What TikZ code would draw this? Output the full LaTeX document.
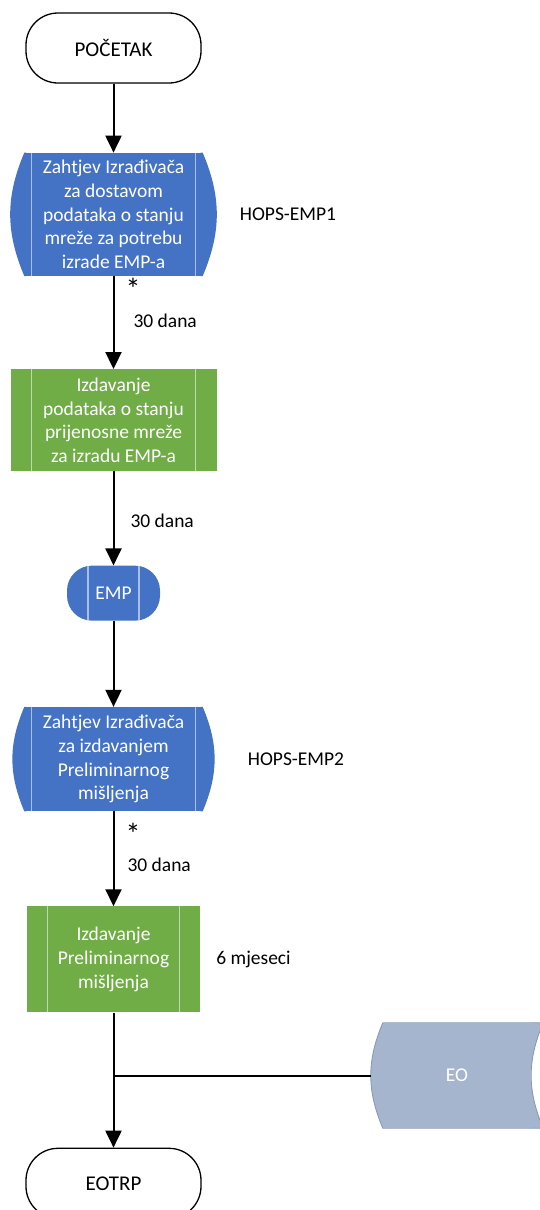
\documentclass[tikz,border=0pt]{standalone}
\usepackage{fontspec}
\setmainfont{Carlito}
\usepackage{xcolor}
\usepackage{tikz}
\usetikzlibrary{
    arrows.meta,
    positioning,
    calc
}

\definecolor{procblue}{RGB}{68,114,196}
\definecolor{procgreen}{RGB}{112,173,71}
\definecolor{storegray}{RGB}{165,181,206}
\definecolor{storeline}{RGB}{132,150,178}

\begin{document}
\begin{tikzpicture}[
        x=1pt, y=1pt,
        font=\fontsize{19.5pt}{23.5pt}\selectfont,
        term/.style={
            rectangle,
            rounded corners=32pt,
            draw,
            line width=1.3pt,
            fill=white,
            font=\fontsize{21pt}{24pt}\selectfont,
            minimum width=175pt,
            minimum height=70pt
        },
        proc/.style={
            rectangle,
            fill=#1,
            text=white,
            align=center,
            font=\fontsize{19.5pt}{23.7pt}\selectfont,
            inner sep=0pt
        },
        curved/.style={
            append after command={
                \pgfextra{
                    \fill[#1] (\tikzlastnode.north west)
                        to[bend right=23] (\tikzlastnode.south west)
                        -- ([xshift=2pt]\tikzlastnode.south west)
                        -- ([xshift=2pt]\tikzlastnode.north west) -- cycle;
                    \fill[#1] (\tikzlastnode.north east)
                        to[bend left=23] (\tikzlastnode.south east)
                        -- ([xshift=-2pt]\tikzlastnode.south east)
                        -- ([xshift=-2pt]\tikzlastnode.north east) -- cycle;
                }
            }
        },
        bars/.style={
            path picture={
                \draw[white, opacity=0.55, line width=1.2pt]
                    ([xshift=#1]path picture bounding box.north west)
                        -- ([xshift=#1]path picture bounding box.south west)
                    ([xshift=-#1]path picture bounding box.north east)
                        -- ([xshift=-#1]path picture bounding box.south east);
            }
        },
        store/.style={
            append after command={
                \pgfextra{
                    \fill[storegray] (\tikzlastnode.north west)
                        to[bend right=23] (\tikzlastnode.south west)
                        -- ([xshift=2pt]\tikzlastnode.south west)
                        -- ([xshift=2pt]\tikzlastnode.north west) -- cycle;
                    \fill[storegray] ([xshift=-2pt]\tikzlastnode.north east)
                        -- ([xshift=12pt]\tikzlastnode.north east)
                        to[bend right=23] ([xshift=12pt]\tikzlastnode.south east)
                        -- ([xshift=-2pt]\tikzlastnode.south east) -- cycle;
                    \draw[storeline, line width=0.8pt]
                        ([xshift=12pt]\tikzlastnode.north east)
                        -- (\tikzlastnode.north west)
                        to[bend right=23] (\tikzlastnode.south west)
                        -- ([xshift=12pt]\tikzlastnode.south east)
                        to[bend left=23] ([xshift=12pt]\tikzlastnode.north east);
                }
            }
        },
        line/.style={
            -{Triangle[length=17pt,width=16pt]},
            line width=2pt
        },
        note/.style={
            anchor=west,
            inner sep=0pt
        },
        star/.style={
            anchor=west,
            inner sep=0pt,
            font=\fontsize{30pt}{30pt}\selectfont
        }
    ]

    \useasboundingbox (0,0) rectangle (540,-1210);

    \node[term] (start) at (113.5,-48) {POČETAK};

    \node[proc=procblue, curved=procblue, bars=7pt,
        minimum width=178pt, minimum height=123pt,
        below=69pt of start] (req1)
        {Zahtjev Izrađivača\\za dostavom\\podataka o stanju\\mreže za potrebu\\izrade EMP-a};

    \node[proc=procgreen, bars=21pt,
        minimum width=206pt, minimum height=102pt,
        below=93pt of req1] (data1)
        {Izdavanje\\podataka o stanju\\prijenosne mreže\\za izradu EMP-a};

    \node[proc=procblue, rounded corners=25pt, bars=21pt,
        minimum width=93pt, minimum height=55pt,
        below=94pt of data1] (emp) {EMP};

    \node[proc=procblue, curved=procblue, bars=7pt,
        minimum width=178pt, minimum height=104pt,
        below=86pt of emp] (req2)
        {Zahtjev Izrađivača\\za izdavanjem\\Preliminarnog\\mišljenja};

    \node[proc=procgreen, bars=20.5pt,
        minimum width=173pt, minimum height=106pt,
        below=95pt of req2] (data2)
        {Izdavanje\\Preliminarnog\\mišljenja};

    \node[term, below=135pt of data2] (eotrp) {EOTRP};

    \node[proc=storegray, store,
        minimum width=148pt, minimum height=105pt] (eo)
        at (457,-1075.5) {EO};

    % labels beside the steps
    \node[note, right=37pt of req1] (hops1) {HOPS-EMP1};
    \node[note, right=45pt of req2] (hops2) {HOPS-EMP2};
    \node[note, right=16pt of data2] (rok) {6 mjeseci};

    \draw[line] (start) -- (req1);
    \draw[line] (req1) --
        node[star, pos=0.14, xshift=11pt] {*}
        node[note, pos=0.48, xshift=19pt] {30 dana} (data1);
    \draw[line] (data1) --
        node[note, pos=0.52, xshift=16pt] {30 dana} (emp);
    \draw[line] (emp) -- (req2);
    \draw[line] (req2) --
        node[star, pos=0.24, xshift=11pt] {*}
        node[note, pos=0.56, xshift=13pt] {30 dana} (data2);
    \draw[line] (data2) -- (eotrp);

    \coordinate (split) at (data2.south |- eo.west);
    \draw[line width=2pt] (split) -- ([xshift=-12pt]eo.west);

\end{tikzpicture}
\end{document}
